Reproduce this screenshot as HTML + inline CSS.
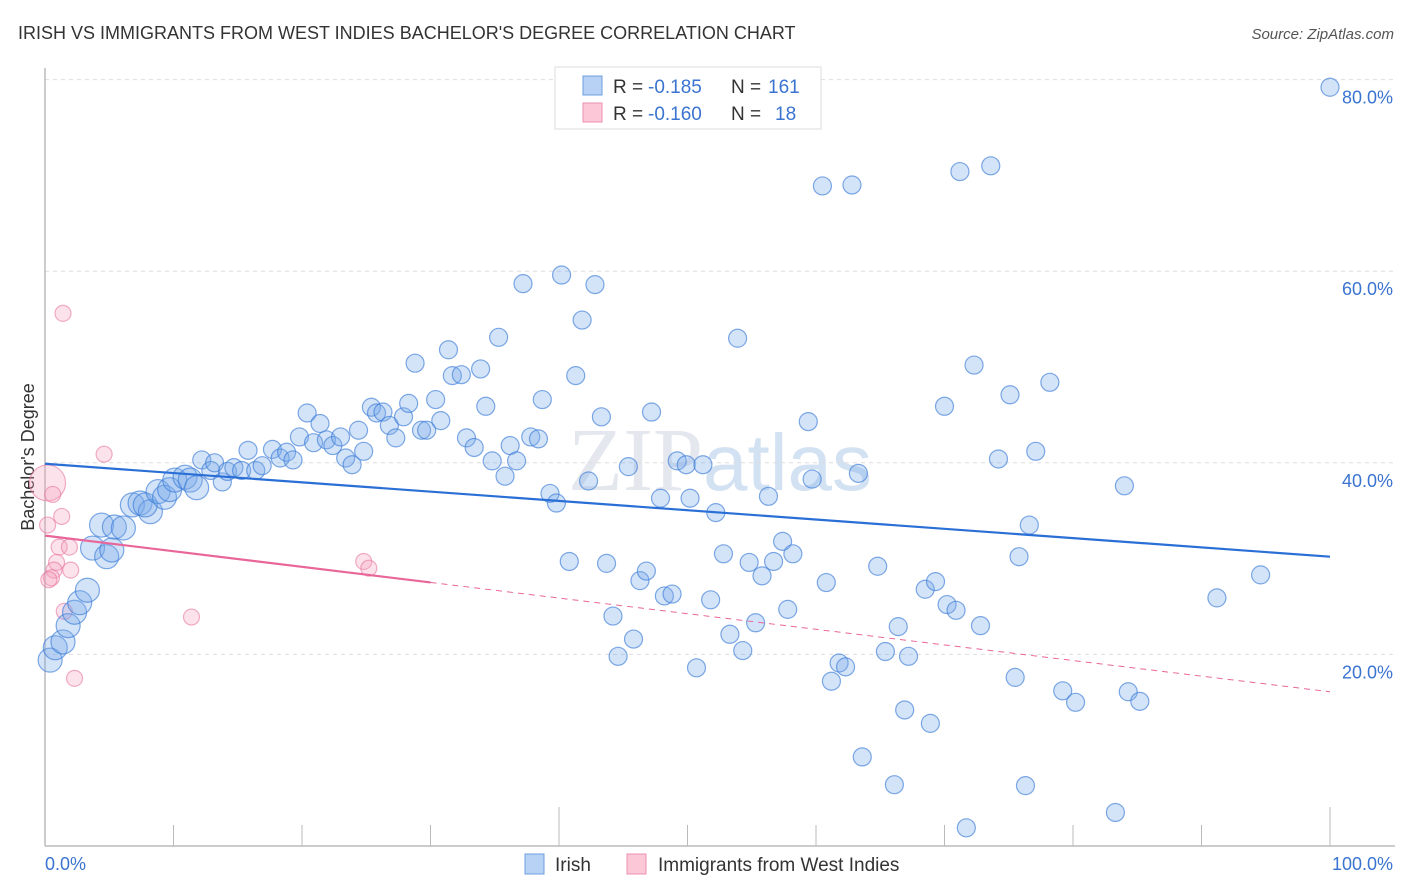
<!DOCTYPE html>
<html><head><meta charset="utf-8"><style>
body{margin:0;background:#fff;font-family:"Liberation Sans",sans-serif}
svg{display:block}
</style></head><body>
<svg id="chart" width="1406" height="892" viewBox="0 0 1406 892" xmlns="http://www.w3.org/2000/svg">
<text x="18" y="39" font-size="18" fill="#333">IRISH VS IMMIGRANTS FROM WEST INDIES BACHELOR'S DEGREE CORRELATION CHART</text>
<text x="1394" y="39" font-size="15" fill="#555" text-anchor="end" font-style="italic">Source: ZipAtlas.com</text>
<text x="720" y="490" font-size="90" fill="#e4e8ee" text-anchor="middle" font-family="Liberation Serif, serif">ZIP<tspan fill="#d3e2f3" font-family="Liberation Sans, sans-serif" font-size="80">atlas</tspan></text>
<g id="grid"></g>
<g id="axes"></g>
<text transform="translate(34,457) rotate(-90)" font-size="18" fill="#333" text-anchor="middle">Bachelor's Degree</text>
<g id="pts"></g>
<g id="trends"></g>
<g>
<rect x="555" y="67" width="266" height="62" fill="#fff" stroke="#ddd"/>
<rect x="583" y="76" width="19" height="19" fill="#b7d2f5" stroke="#6e9fe0"/>
<rect x="583" y="103" width="19" height="19" fill="#fcc8d8" stroke="#ec8fb0"/>
<text x="613" y="93" font-size="19" fill="#333">R = <tspan fill="#3a74d0" x="648">-0.185</tspan><tspan fill="#333" x="731">N =</tspan><tspan fill="#3a74d0" x="768">161</tspan></text>
<text x="613" y="120" font-size="19" fill="#333">R = <tspan fill="#3a74d0" x="648">-0.160</tspan><tspan fill="#333" x="731">N =</tspan><tspan fill="#3a74d0" x="775">18</tspan></text>
</g>
<g>
<rect x="525" y="854" width="19" height="20" fill="#b7d2f5" stroke="#6e9fe0"/>
<text x="555" y="871" font-size="19" fill="#333">Irish</text>
<rect x="627" y="854" width="19" height="20" fill="#fcc8d8" stroke="#ec8fb0"/>
<text x="658" y="871" font-size="19" fill="#333">Immigrants from West Indies</text>
</g>
</svg>
<script>
const xTicks=[0,10,20,30,40,50,60,70,80,90,100];
const yTicks=[20,40,60,80];
const yTickLabels=["20.0%","40.0%","60.0%","80.0%"];
const xEndLabels=["0.0%","100.0%"];
const irishX=[0.4,0.8,1.4,1.8,2.3,2.7,3.3,4.4,3.7,4.8,5.2,5.4,6.1,6.8,7.4,8.2,7.8,8.8,9.3,9.7,10.1,10.9,11.3,11.8,12.2,12.9,13.2,13.8,14.2,14.7,15.3,15.8,16.4,16.9,17.7,18.3,18.8,19.3,19.8,20.4,20.9,21.4,21.9,22.4,23.0,23.4,23.9,24.4,24.8,25.4,25.8,26.3,26.8,27.3,27.9,28.3,28.8,29.3,29.7,30.4,30.8,31.4,31.7,32.4,32.8,33.4,33.9,34.3,34.8,35.3,35.8,36.2,36.7,37.2,37.8,38.4,38.7,39.3,39.8,40.2,40.8,41.3,41.8,42.3,42.8,43.3,43.7,44.2,44.6,45.4,45.8,46.3,46.8,47.2,47.9,48.2,48.8,49.2,49.9,50.2,50.7,51.2,51.8,52.2,52.8,53.3,53.9,54.3,54.8,55.3,55.8,56.3,56.7,57.4,57.8,58.2,59.4,59.7,60.5,60.8,61.2,61.8,62.3,62.8,63.3,63.6,64.8,65.4,66.1,66.4,66.9,67.2,68.5,68.9,69.3,70.0,70.2,70.9,71.2,71.7,72.3,72.8,73.6,74.2,75.1,75.5,75.8,76.3,76.6,77.1,78.2,79.2,80.2,83.3,84.0,84.3,85.2,91.2,94.6,100];
const irishY=[19.4,20.7,21.3,23.0,24.4,25.4,26.7,33.5,31.1,30.2,30.9,33.3,33.2,35.6,35.8,34.9,35.6,37.0,36.4,37.2,38.2,38.5,38.2,37.4,40.3,39.2,40.0,38.0,39.1,39.5,39.2,41.3,39.2,39.7,41.4,40.5,41.1,40.3,42.7,45.2,42.1,44.1,42.4,41.8,42.7,40.5,39.8,43.4,41.2,45.8,45.2,45.3,43.9,42.6,44.8,46.2,50.4,43.4,43.4,46.6,44.4,51.8,49.1,49.2,42.6,41.6,49.8,45.9,40.2,53.1,38.6,41.8,40.2,58.7,42.7,42.5,46.6,36.8,35.8,59.6,29.7,49.1,54.9,38.1,58.6,44.8,29.5,24.0,19.8,39.6,21.6,27.7,28.7,45.3,36.3,26.1,26.3,40.2,39.8,36.3,18.6,39.8,25.7,34.8,30.5,22.1,53.0,20.4,29.6,23.3,28.2,36.5,29.7,31.8,24.7,30.5,44.3,38.3,68.9,27.5,17.2,19.1,18.7,69.0,38.9,9.3,29.2,20.3,6.4,22.9,14.2,19.8,26.8,12.8,27.6,45.9,25.2,24.6,70.4,1.9,50.2,23.0,71.0,40.4,47.1,17.6,30.2,6.3,33.5,41.2,48.4,16.2,15.0,3.5,37.6,16.1,15.1,25.9,28.3,79.2];
const wiX=[1.4,0.2,0.6,0.2,1.3,1.1,1.9,0.9,0.7,2.0,0.5,0.3,1.5,4.6,2.3,11.4,24.8,25.2];
const wiY=[55.6,37.9,36.7,33.5,34.4,31.2,31.2,29.6,28.8,28.8,28.0,27.8,24.5,40.9,17.5,23.9,29.7,29.0];
const wiSize=[8,18,8,8,8,8,8,8,8,8,8,8,8,8,8,8,8,8];
const irishTrend=[39.9,30.2];
const wiTrend=[32.4,16.1];
const wiSolidEnd=30;

const NS="http://www.w3.org/2000/svg";
const X0=45,X1=1330,Y0=846,YPX=9.58;
function sx(v){return X0+(X1-X0)*v/100;}
function sy(v){return Y0-v*YPX;}
function mk(tag,attrs,parent){const e=document.createElementNS(NS,tag);for(const k in attrs)e.setAttribute(k,attrs[k]);parent.appendChild(e);return e;}
const grid=document.getElementById('grid'),axes=document.getElementById('axes'),pts=document.getElementById('pts'),tr=document.getElementById('trends');
yTicks.forEach((t,i)=>{
 const l=mk('line',{x1:45,x2:1395,y1:sy(t),y2:sy(t),stroke:'#ddd','stroke-dasharray':'4,4'},grid);
 
 
 const tx=mk('text',{x:1393,y:sy(t)+24,'font-size':18,fill:'#3a74d0','text-anchor':'end'},axes);
 tx.textContent=yTickLabels[i];
 
 
});
const ax=mk('line',{x1:45,x2:1395,y1:Y0,y2:Y0,stroke:'#bbb','stroke-width':1.5},axes);


const ay=mk('line',{x1:45,x2:45,y1:68,y2:Y0,stroke:'#bbb','stroke-width':1.5},axes);


xTicks.forEach(t=>{
 const big=(t===40||t===100);
 const l=mk('line',{x1:sx(t),x2:sx(t),y1:big?807:825,y2:Y0,stroke:'#bbb'},axes);
 
 
});
[[0,'start',45],[100,'end',1393]].forEach((d,i)=>{
 const tx=mk('text',{x:d[2],y:870,'font-size':18,fill:'#3a74d0','text-anchor':d[1]},axes);
 tx.textContent=xEndLabels[i];
 
 
});
wiX.forEach((x,i)=>{
 const c=mk('circle',{cx:sx(x),cy:sy(wiY[i]),r:wiSize[i],fill:'rgba(244,160,188,0.3)',stroke:'rgba(232,120,160,0.6)','stroke-width':1.2},pts);
 
 
});
irishX.forEach((x,i)=>{
 const c=mk('circle',{cx:sx(x),cy:sy(irishY[i]),r:i<24?12:9,fill:'rgba(120,170,235,0.33)',stroke:'rgba(60,125,215,0.65)','stroke-width':1.2},pts);
 
 
});
function tv(a,x){return a[0]+(a[1]-a[0])*x/100;}
const bl=mk('line',{x1:sx(0),y1:sy(irishTrend[0]),x2:sx(100),y2:sy(irishTrend[1]),stroke:'#2a6fd6','stroke-width':2.2},tr);


const pl=mk('line',{x1:sx(0),y1:sy(wiTrend[0]),x2:sx(wiSolidEnd),y2:sy(tv(wiTrend,wiSolidEnd)),stroke:'#e8669a','stroke-width':2.2},tr);


const pd=mk('line',{x1:sx(wiSolidEnd),y1:sy(tv(wiTrend,wiSolidEnd)),x2:sx(100),y2:sy(wiTrend[1]),stroke:'#e8669a','stroke-width':1,'stroke-dasharray':'6,5'},tr);


</script>
</body></html>
